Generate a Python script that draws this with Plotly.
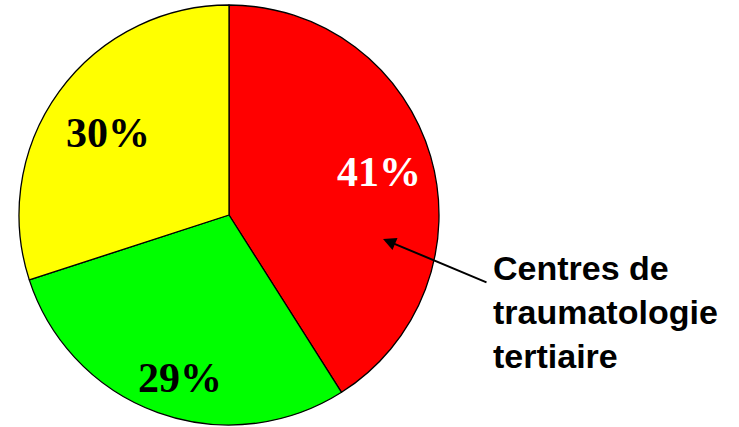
import plotly.graph_objects as go

# valeurs du camembert (sens horaire depuis midi)
categories = ["Centres de traumatologie tertiaire", "Autres", "Autres2"]
values = [41, 29, 30]
colors = ["#FF0000", "#00FF00", "#FFFF00"]
label_colors = ["white", "black", "black"]
# position des étiquettes en pixels (x, y depuis le haut)
label_pos = [(379, 172), (180, 378), (108, 133)]

W, H = 739, 427


def px(x):
    return x / W


def py(y):
    return 1 - y / H


fig = go.Figure()

fig.add_trace(go.Pie(
    labels=categories,
    values=values,
    sort=False,
    direction="clockwise",
    rotation=0,
    marker=dict(colors=colors, line=dict(color="black", width=1.3)),
    textinfo="none",
    hoverinfo="label+percent",
    showlegend=False,
    domain=dict(x=[px(19), px(439)], y=[py(425), py(5)]),
))

total = sum(values)
annots = []
for v, c, (lx, ly) in zip(values, label_colors, label_pos):
    annots.append(dict(
        x=px(lx), y=py(ly), xref="paper", yref="paper",
        xanchor="center", yanchor="middle",
        text=f"<b>{round(100 * v / total)}%</b>", showarrow=False,
        font=dict(family="Liberation Serif", size=42, color=c),
    ))

# flèche + texte
annots.append(dict(
    x=px(383), y=py(239), xref="paper", yref="paper",
    ax=105, ay=44,
    showarrow=True, arrowhead=2, arrowsize=1.3, arrowwidth=2, arrowcolor="black",
    text="",
))
annots.append(dict(
    x=px(491), y=py(312), xref="paper", yref="paper",
    xanchor="left", yanchor="middle", align="left", showarrow=False,
    text="<b>Centres de<br>traumatologie<br>tertiaire</b>",
    font=dict(family="Liberation Sans", size=34, color="black"),
))

fig.update_layout(
    width=W, height=H,
    margin=dict(l=0, r=0, t=0, b=0),
    paper_bgcolor="white", plot_bgcolor="white",
    annotations=annots,
)

# pas de marge autour de la figure dans la page, pas de barre d'outils
fig.write_html("out.html", config={"displayModeBar": False},
               post_script="document.body.style.margin='0';")
